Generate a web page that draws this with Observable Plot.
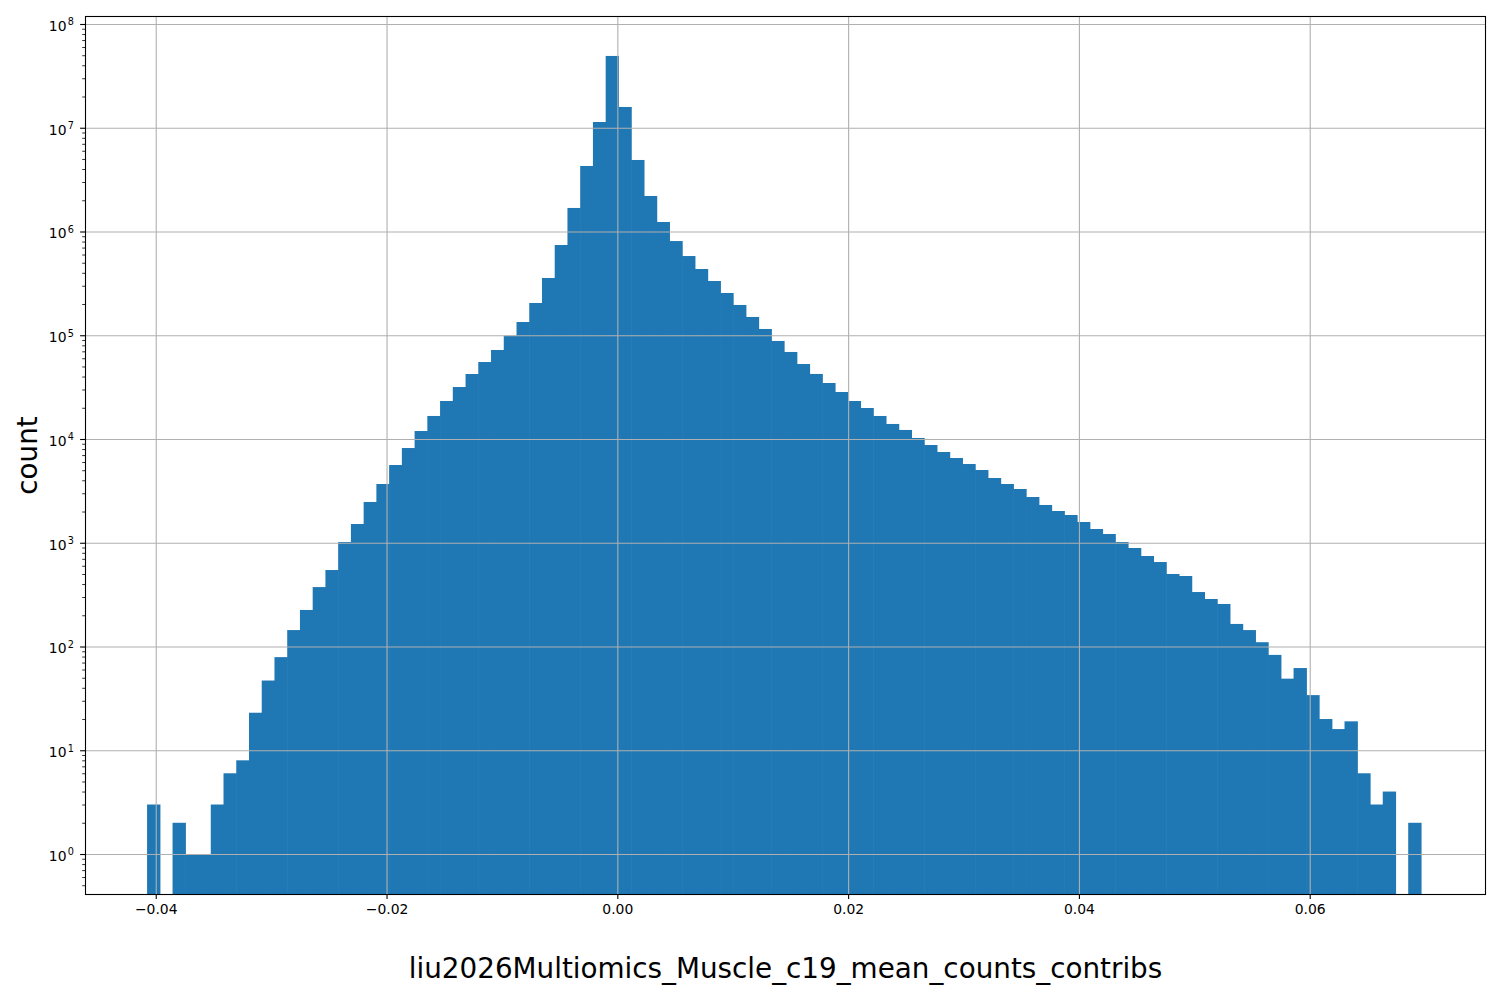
<!DOCTYPE html>
<html><head><meta charset="utf-8">
<script src="https://cdn.jsdelivr.net/npm/d3@7"></script>
<script src="https://cdn.jsdelivr.net/npm/@observablehq/plot@0.6"></script>
<style>body{margin:0;background:#fff;} svg{display:block;}</style>
</head><body><div id="chart"></div>
<script>
// Histogram counts, 100 equal-width bins between binLo and binHi
const counts = [
  3, 0, 2, 1, 1, 3, 6, 8, 23, 47,
  79, 144, 225, 374, 546, 1016, 1516, 2472, 3683, 5614,
  8185, 11940, 16670, 23240, 31700, 42330, 55200, 72100, 99000, 134200,
  204600, 356400, 741000, 1686000, 4280000, 11360000, 49200000, 15850000, 4890000, 2200000,
  1235000, 809000, 580000, 435000, 333400, 255500, 195800, 150000, 114900, 88100,
  69000, 52800, 42350, 34650, 28380, 23240, 19900, 16670, 13960, 12220,
  10230, 8750, 7495, 6560, 5740, 5025, 4208, 3683, 3297, 2760,
  2312, 2024, 1851, 1585, 1357, 1214, 1016, 890, 745, 652,
  500, 478, 335, 287, 257, 165, 144, 110, 83, 49,
  62, 34, 20, 16, 19, 6, 3, 4, 0, 2
];
const binLo = -0.04075;
const binHi = 0.06964;
const xTicks = [-0.04, -0.02, 0, 0.02, 0.04, 0.06];
const yTicks = [1, 10, 100, 1e3, 1e4, 1e5, 1e6, 1e7, 1e8];
const xLabel = "liu2026Multiomics_Muscle_c19_mean_counts_contribs";
const yLabel = "count";

const nBins = counts.length;
const w = (binHi - binLo) / nBins;
const bins = counts.map((c, i) => ({x1: binLo + i * w, x2: binLo + (i + 1) * w, count: c}))
  .filter(d => d.count > 0);
const xDomain = [-0.04613, 0.07519];
const yDomain = [0.4117, 1.194e8];
const minor = [];
for (let k = -1; k <= 8; k++) for (let m = 2; m <= 9; m++) {
  const v = m * Math.pow(10, k);
  if (v >= yDomain[0] && v <= yDomain[1]) minor.push(v);
}
const expOf = d => String(Math.round(Math.log10(d)));

const grid = {stroke: "#b0b0b0", strokeOpacity: 1, strokeWidth: 1.1};
const chart = Plot.plot({
  width: 1500, height: 1000,
  marginLeft: 85, marginRight: 15, marginTop: 16, marginBottom: 106,
  style: {fontFamily: "DejaVu Sans", fontSize: "13.9px", background: "white", color: "black"},
  x: {domain: xDomain},
  y: {type: "log", domain: yDomain},
  marks: [
    Plot.rectY(bins, {x1: "x1", x2: "x2", y1: yDomain[0], y2: "count", fill: "#1f77b4", insetRight: -0.6}),
    Plot.gridX(xTicks, grid),
    Plot.gridY(yTicks, grid),
    Plot.axisX(xTicks, {tickSize: 4.9, tickPadding: 4.9, strokeWidth: 1.1, tickFormat: d3.format(".2f"), label: null, fontSize: 13.9}),
    Plot.axisY(yTicks, {tickSize: 4.9, strokeWidth: 1.1, tickFormat: () => "", label: null}),
    Plot.axisY(minor, {tickSize: 2.8, strokeWidth: 0.8, tickFormat: () => "", label: null}),
    Plot.text(yTicks, {y: d => d, frameAnchor: "left", textAnchor: "end", lineAnchor: "middle", dx: -19, dy: 2, text: () => "10", fontSize: 13.9}),
    Plot.text(yTicks, {y: d => d, frameAnchor: "left", textAnchor: "end", lineAnchor: "middle", dx: -11.7, dy: -2.2, text: expOf, fontSize: 9.7}),
    Plot.frame({stroke: "black", strokeWidth: 1.1}),
    Plot.text([yLabel], {frameAnchor: "left", textAnchor: "middle", lineAnchor: "middle", dx: -57, rotate: -90, text: d => d, fontSize: 27.8}),
    Plot.text([xLabel], {frameAnchor: "bottom", textAnchor: "middle", lineAnchor: "middle", dy: 75, text: d => d, fontSize: 27.8})
  ]
});
document.getElementById("chart").appendChild(chart);
</script>
</body></html>
